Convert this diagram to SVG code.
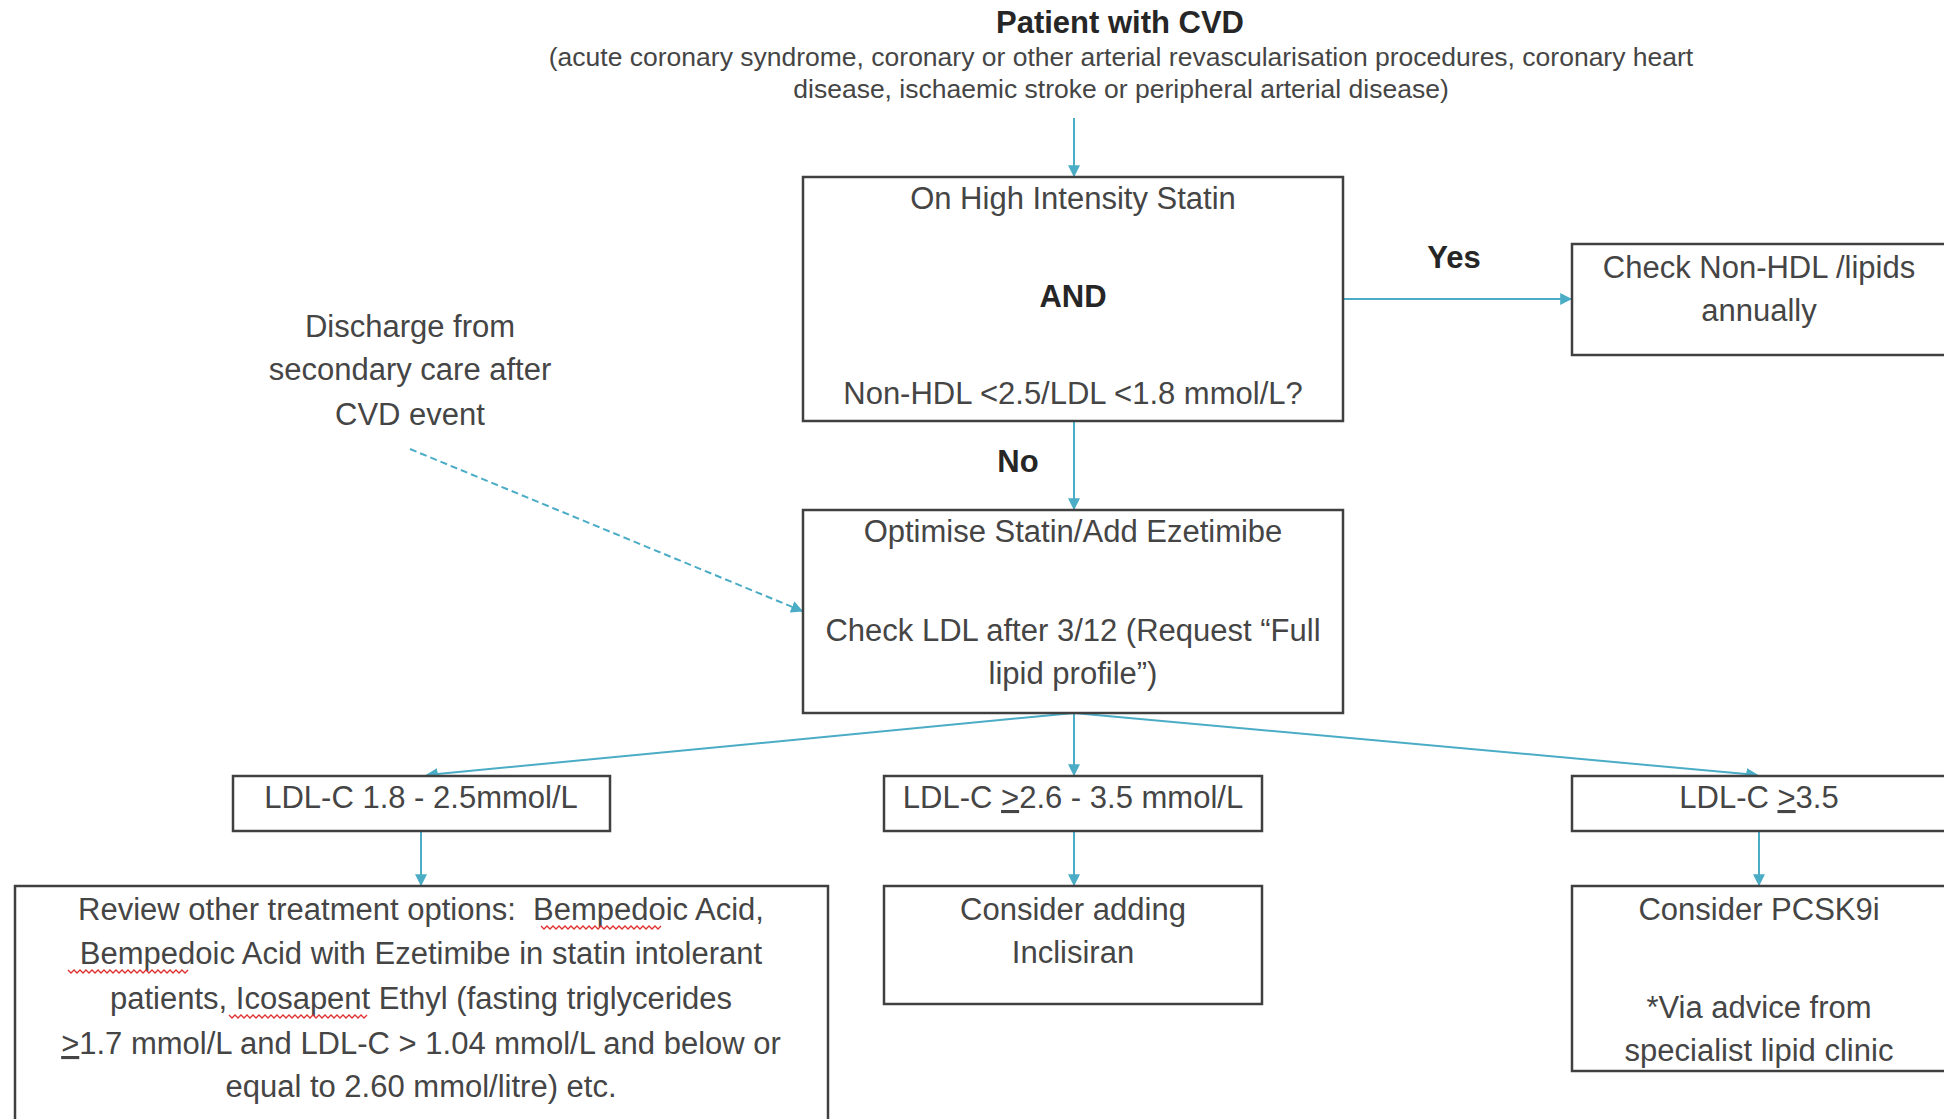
<svg xmlns="http://www.w3.org/2000/svg" width="1944" height="1119" viewBox="0 0 1944 1119">
<style>
  .box { fill: #ffffff; stroke: #404040; stroke-width: 2.5; }
  .t { font-family: "Liberation Sans", Arial, sans-serif; font-size: 31px; fill: #454545; text-anchor: middle; }
  .b { font-family: "Liberation Sans", Arial, sans-serif; font-size: 31px; font-weight: bold; fill: #262626; text-anchor: middle; }
  .sub { font-family: "Liberation Sans", Arial, sans-serif; font-size: 26.5px; fill: #454545; text-anchor: middle; }
  .ttl { font-family: "Liberation Sans", Arial, sans-serif; font-size: 31px; font-weight: bold; fill: #262626; text-anchor: middle; }
  .c { fill: none; stroke: #4bacc6; stroke-width: 2; marker-end: url(#ah); }
  .dash { stroke-dasharray: 7 4; }
  .sq { fill: none; stroke: #e03030; stroke-width: 1.3; }
</style>
<defs>
  <marker id="ah" viewBox="0 0 10 10" refX="9" refY="5" markerWidth="12" markerHeight="12" markerUnits="userSpaceOnUse" orient="auto">
    <path d="M0,0 L10,5 L0,10 z" fill="#4bacc6"/>
  </marker>
</defs>
<rect width="1944" height="1119" fill="#ffffff"/>

<g id="title">
  <text class="ttl" x="1120" y="33">Patient with CVD</text>
  <text class="sub" x="1121" y="66">(acute coronary syndrome, coronary or other arterial revascularisation procedures, coronary heart</text>
  <text class="sub" x="1121" y="98">disease, ischaemic stroke or peripheral arterial disease)</text>
</g>

<g id="discharge">
  <text class="t" x="410" y="337">Discharge from</text>
  <text class="t" x="410" y="380">secondary care after</text>
  <text class="t" x="410" y="425">CVD event</text>
</g>

<g id="connectors">
  <path class="c" d="M1074,118 L1074,176"/>
  <path class="c" d="M1343,299 L1571,299"/>
  <path class="c" d="M1074,421 L1074,509"/>
  <path class="c dash" d="M410,449 L802,611"/>
  <path class="c" d="M1074,713 L427,775"/>
  <path class="c" d="M1074,713 L1074,775"/>
  <path class="c" d="M1074,713 L1757,775"/>
  <path class="c" d="M421,831 L421,885"/>
  <path class="c" d="M1074,831 L1074,885"/>
  <path class="c" d="M1759,831 L1759,885"/>
  <text class="b" x="1454" y="268">Yes</text>
  <text class="b" x="1018" y="472">No</text>
</g>

<g id="statin">
  <rect class="box" x="803" y="177" width="540" height="244"/>
  <text class="t" x="1073" y="209">On High Intensity Statin</text>
  <text class="b" x="1073" y="307">AND</text>
  <text class="t" x="1073" y="404">Non-HDL &lt;2.5/LDL &lt;1.8 mmol/L?</text>
</g>

<g id="check-annual">
  <rect class="box" x="1572" y="244" width="390" height="111"/>
  <text class="t" x="1759" y="278">Check Non-HDL /lipids</text>
  <text class="t" x="1759" y="321">annually</text>
</g>

<g id="optimise">
  <rect class="box" x="803" y="510" width="540" height="203"/>
  <text class="t" x="1073" y="542">Optimise Statin/Add Ezetimibe</text>
  <text class="t" x="1073" y="641">Check LDL after 3/12 (Request “Full</text>
  <text class="t" x="1073" y="684">lipid profile”)</text>
</g>

<g id="ldl-low">
  <rect class="box" x="233" y="776" width="377" height="55"/>
  <text class="t" x="421" y="808">LDL-C 1.8 - 2.5mmol/L</text>
</g>

<g id="ldl-mid">
  <rect class="box" x="884" y="776" width="378" height="55"/>
  <text class="t" x="1073" y="808">LDL-C <tspan text-decoration="underline">&gt;</tspan>2.6 - 3.5 mmol/L</text>
</g>

<g id="ldl-high">
  <rect class="box" x="1572" y="776" width="390" height="55"/>
  <text class="t" x="1759" y="808">LDL-C <tspan text-decoration="underline">&gt;</tspan>3.5</text>
</g>

<g id="review">
  <rect class="box" x="15" y="886" width="813" height="250"/>
  <text class="t" x="421" y="920">Review other treatment options:&#160; Bempedoic Acid,</text>
  <text class="t" x="421" y="964">Bempedoic Acid with Ezetimibe in statin intolerant</text>
  <text class="t" x="421" y="1009">patients, Icosapent Ethyl (fasting triglycerides</text>
  <text class="t" x="421" y="1054"><tspan text-decoration="underline">&gt;</tspan>1.7 mmol/L and LDL-C &gt; 1.04 mmol/L and below or</text>
  <text class="t" x="421" y="1097">equal to 2.60 mmol/litre) etc.</text>
  <path class="sq" d="M541,926 l3,3 l3,-3 l3,3 l3,-3 l3,3 l3,-3 l3,3 l3,-3 l3,3 l3,-3 l3,3 l3,-3 l3,3 l3,-3 l3,3 l3,-3 l3,3 l3,-3 l3,3 l3,-3 l3,3 l3,-3 l3,3 l3,-3 l3,3 l3,-3 l3,3 l3,-3 l3,3 l3,-3 l3,3 l3,-3 l3,3 l3,-3 l3,3 l3,-3 l3,3 l3,-3 l3,3 l3,-3"/>
  <path class="sq" d="M68,970 l3,3 l3,-3 l3,3 l3,-3 l3,3 l3,-3 l3,3 l3,-3 l3,3 l3,-3 l3,3 l3,-3 l3,3 l3,-3 l3,3 l3,-3 l3,3 l3,-3 l3,3 l3,-3 l3,3 l3,-3 l3,3 l3,-3 l3,3 l3,-3 l3,3 l3,-3 l3,3 l3,-3 l3,3 l3,-3 l3,3 l3,-3 l3,3 l3,-3 l3,3 l3,-3 l3,3 l3,-3"/>
  <path class="sq" d="M229,1015 l3,3 l3,-3 l3,3 l3,-3 l3,3 l3,-3 l3,3 l3,-3 l3,3 l3,-3 l3,3 l3,-3 l3,3 l3,-3 l3,3 l3,-3 l3,3 l3,-3 l3,3 l3,-3 l3,3 l3,-3 l3,3 l3,-3 l3,3 l3,-3 l3,3 l3,-3 l3,3 l3,-3 l3,3 l3,-3 l3,3 l3,-3 l3,3 l3,-3 l3,3 l3,-3 l3,3 l3,-3 l3,3 l3,-3 l3,3 l3,-3 l3,3 l3,-3"/>
</g>

<g id="inclisiran">
  <rect class="box" x="884" y="886" width="378" height="118"/>
  <text class="t" x="1073" y="920">Consider adding</text>
  <text class="t" x="1073" y="963">Inclisiran</text>
</g>

<g id="pcsk9i">
  <rect class="box" x="1572" y="886" width="390" height="185"/>
  <text class="t" x="1759" y="920">Consider PCSK9i</text>
  <text class="t" x="1759" y="1018">*Via advice from</text>
  <text class="t" x="1759" y="1061">specialist lipid clinic</text>
</g>
</svg>
